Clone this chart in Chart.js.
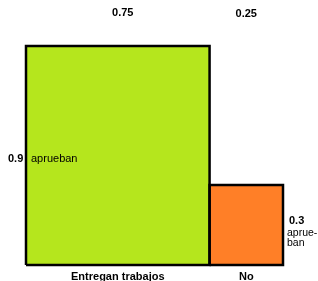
<!DOCTYPE html>
<html>
<head>
<meta charset="utf-8">
<script src="https://cdn.jsdelivr.net/npm/chart.js@4"></script>
<style>
    html, body { margin: 0; padding: 0; background: #ffffff; }
    #wrap { width: 318px; height: 281px; }
</style>
</head>
<body>
<div id="wrap"><canvas id="chart"></canvas></div>
<script>
// Grupos (columnas del mosaico)
const groups = ['Entregan trabajos', 'No'];
const groupShareLabels = ['0.75', '0.25'];
const passShareLabels = ['0.9', '0.3'];
const passLabels = [['aprueban'], ['aprue-', 'ban']];
// Anchos y altos tal como aparecen dibujados
const groupWidths = [0.75, 0.3];
const passHeights = [0.9, 0.329];
const colors = ['#b5e61d', '#ff7f27'];

// Un dataset de relleno y otro de contorno por grupo
let start = 0;
const datasets = [];
groups.forEach((g, i) => {
    const x0 = start;
    const x1 = start + groupWidths[i];
    start = x1;
    const h = passHeights[i];
    datasets.push({
        label: g,
        data: [{ x: x0, y: h }, { x: x1, y: h }],
        fill: 'origin',
        backgroundColor: colors[i],
        borderWidth: 0,
        pointRadius: 0,
        order: 2,
        clip: false
    });
    datasets.push({
        label: g + ' borde',
        data: [
            { x: x0, y: 0 }, { x: x0, y: h }, { x: x1, y: h },
            { x: x1, y: 0 }, { x: x0, y: 0 }
        ],
        fill: false,
        borderColor: '#000000',
        borderWidth: 2.5,
        pointRadius: 0,
        order: 1,
        clip: false
    });
});

const labelsPlugin = {
    id: 'mosaicLabels',
    afterDatasetsDraw(chart) {
        const { ctx, scales: { x, y } } = chart;
        ctx.save();
        ctx.fillStyle = '#000000';
        ctx.textBaseline = 'middle';
        let s = 0;
        groups.forEach((g, i) => {
            const x0 = x.getPixelForValue(s);
            const x1 = x.getPixelForValue(s + groupWidths[i]);
            s += groupWidths[i];
            const cx = (x0 + x1) / 2;
            ctx.textAlign = 'center';
            ctx.font = 'bold 11px "Liberation Sans", Arial, sans-serif';
            ctx.fillText(groupShareLabels[i], cx + (i === 0 ? 5 : 0), i === 0 ? 13 : 14);
            ctx.fillText(g, cx, 277);
        });
        // etiquetas de la primera columna (izquierda)
        const yMid0 = y.getPixelForValue(passHeights[0] / 2);
        ctx.textAlign = 'left';
        ctx.font = 'bold 11px "Liberation Sans", Arial, sans-serif';
        ctx.fillText(passShareLabels[0], 8, yMid0 + 3);
        ctx.font = '11px "Liberation Sans", Arial, sans-serif';
        ctx.fillText(passLabels[0][0], 31, yMid0 + 3);
        // etiquetas de la segunda columna (derecha)
        const xr = x.getPixelForValue(groupWidths[0] + groupWidths[1]) + 4;
        ctx.font = 'bold 11px "Liberation Sans", Arial, sans-serif';
        ctx.fillText(passShareLabels[1], xr + 2, 221);
        ctx.font = '10.5px "Liberation Sans", Arial, sans-serif';
        passLabels[1].forEach((t, k) => ctx.fillText(t, xr, 233 + k * 10));
        ctx.restore();
    }
};

new Chart(document.getElementById('chart'), {
    type: 'line',
    data: { datasets },
    options: {
        responsive: true,
        maintainAspectRatio: false,
        animation: false,
        layout: { padding: { left: 26, top: 46, right: 35, bottom: 16 } },
        scales: {
            x: { type: 'linear', min: 0, max: 1.05, display: false },
            y: { type: 'linear', min: 0, max: 0.9, display: false }
        },
        plugins: {
            legend: { display: false },
            tooltip: { enabled: false }
        }
    },
    plugins: [labelsPlugin]
});
</script>
</body>
</html>
